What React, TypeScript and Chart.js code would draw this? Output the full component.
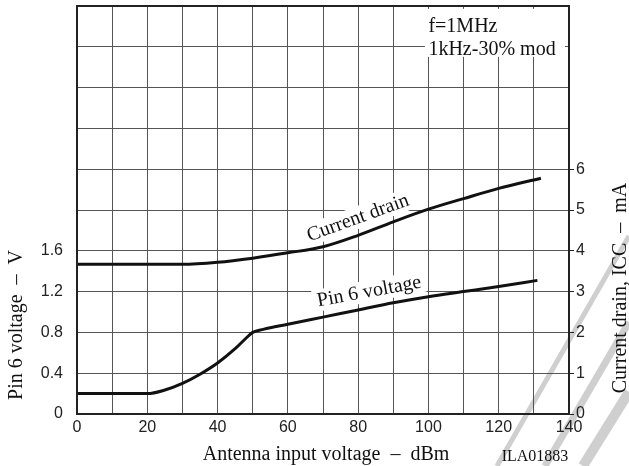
import React, { useEffect, useRef } from "react";
import { Chart, registerables } from "chart.js";

Chart.register(...registerables);

// Antenna input voltage (dBm) vs Pin 6 voltage (V)
const pin6Dbm = [0, 10, 20, 25, 30, 35, 40, 45, 48, 50, 53, 60, 70, 80, 90, 100, 110, 120, 131];
const pin6Volts = [0.2, 0.2, 0.2, 0.235, 0.3, 0.39, 0.5, 0.64, 0.74, 0.8, 0.83, 0.88, 0.95, 1.02, 1.09, 1.15, 1.2, 1.25, 1.31];

// Antenna input voltage (dBm) vs Current drain (mA)
const drainDbm = [0, 10, 20, 30, 40, 50, 60, 70, 80, 90, 100, 110, 120, 132];
const drainMa = [3.67, 3.67, 3.67, 3.67, 3.72, 3.82, 3.95, 4.1, 4.38, 4.71, 5.02, 5.28, 5.53, 5.78];

const xTitle = "Antenna input voltage  –  dBm";
const leftTitle = "Pin 6 voltage  –  V";
const rightTitle = "Current drain, ICC  –  mA";
const noteLines = ["f=1MHz", "1kHz-30% mod"];
const figureId = "ILA01883";
const drainLabel = "Current drain";
const pin6Label = "Pin 6 voltage";

const SERIF = "'Liberation Serif', 'Times New Roman', serif";
const SANS = "'Liberation Sans', Arial, sans-serif";

const annotPlugin = {
  id: "annot",
  beforeDraw(chart: any) {
    const ctx = chart.ctx;
    ctx.save();
    ctx.fillStyle = "#fff";
    ctx.fillRect(0, 0, chart.width, chart.height);
    ctx.strokeStyle = "#cfcfcf";
    ctx.lineCap = "butt";
    const seg = (x1: number, y1: number, x2: number, y2: number, w: number) => {
      ctx.lineWidth = w;
      ctx.beginPath();
      ctx.moveTo(x1, y1);
      ctx.lineTo(x2, y2);
      ctx.stroke();
    };
    seg(497, 466, 629, 236, 5);
    seg(545, 466, 629, 322, 7);
    seg(583, 466, 629, 392, 10);
    ctx.restore();
  },
  beforeDatasetsDraw(chart: any) {
    const ctx = chart.ctx;
    const xs = chart.scales.x;
    const y1 = chart.scales.y1;
    const y = chart.scales.y;
    ctx.save();
    // note box
    ctx.fillStyle = "#fff";
    ctx.fillRect(xs.getPixelForValue(99), y1.getPixelForValue(9.93), 140, 48);
    ctx.fillStyle = "#111";
    ctx.font = `20px ${SERIF}`;
    ctx.textAlign = "left";
    ctx.textBaseline = "alphabetic";
    const nx = xs.getPixelForValue(100);
    ctx.fillText(noteLines[0], nx, 32);
    ctx.fillText(noteLines[1], nx, 55);

    const drawRot = (text: string, px: number, py: number, deg: number) => {
      ctx.save();
      ctx.translate(px, py);
      ctx.rotate((deg * Math.PI) / 180);
      ctx.font = `20px ${SERIF}`;
      const w = ctx.measureText(text).width;
      ctx.fillStyle = "#fff";
      ctx.fillRect(-w / 2 - 4, -17, w + 8, 22);
      ctx.fillStyle = "#111";
      ctx.textAlign = "center";
      ctx.textBaseline = "alphabetic";
      ctx.fillText(text, 0, 0);
      ctx.restore();
    };
    drawRot(drainLabel, xs.getPixelForValue(80.5), y1.getPixelForValue(4.68), -20);
    drawRot(pin6Label, xs.getPixelForValue(83.4), y.getPixelForValue(1.147), -10.5);
    ctx.restore();
  },
  afterDraw(chart: any) {
    const ctx = chart.ctx;
    const a = chart.chartArea;
    ctx.save();
    ctx.strokeStyle = "#222";
    ctx.lineWidth = 2;
    ctx.strokeRect(a.left, a.top, a.right - a.left, a.bottom - a.top);

    ctx.fillStyle = "#111";
    ctx.font = `20px ${SERIF}`;
    ctx.textAlign = "center";
    ctx.textBaseline = "alphabetic";
    ctx.fillText(xTitle, 326, 460);

    ctx.font = `16px ${SERIF}`;
    ctx.fillText(figureId, 535, 461);

    ctx.font = `20px ${SERIF}`;
    ctx.save();
    ctx.translate(22, 325);
    ctx.rotate(-Math.PI / 2);
    ctx.fillText(leftTitle, 0, 0);
    ctx.restore();

    ctx.save();
    ctx.translate(626, 288);
    ctx.rotate(-Math.PI / 2);
    ctx.fillText(rightTitle, 0, 0);
    ctx.restore();
    ctx.restore();
  },
};

export default function App() {
  const ref = useRef<HTMLCanvasElement | null>(null);
  useEffect(() => {
    document.body.style.margin = "0";
    if (!ref.current) return;
    const noPad = (s: any) => {
      s.paddingTop = 0;
      s.paddingBottom = 0;
    };
    const chart = new Chart(ref.current, {
      type: "line",
      data: {
        datasets: [
          {
            label: "Pin 6 voltage",
            data: pin6Dbm.map((x, i) => ({ x, y: pin6Volts[i] })),
            yAxisID: "y",
            borderColor: "#111",
            borderWidth: 3,
            pointRadius: 0,
            cubicInterpolationMode: "monotone",
          },
          {
            label: "Current drain",
            data: drainDbm.map((x, i) => ({ x, y: drainMa[i] })),
            yAxisID: "y1",
            borderColor: "#111",
            borderWidth: 3,
            pointRadius: 0,
            cubicInterpolationMode: "monotone",
          },
        ],
      },
      options: {
        animation: false,
        responsive: false,
        layout: { padding: { top: 6, left: 0, right: 0, bottom: 0 } },
        plugins: { legend: { display: false }, tooltip: { enabled: false }, title: { display: false } },
        scales: {
          x: {
            type: "linear",
            min: 0,
            max: 140,
            ticks: {
              stepSize: 10,
              padding: 4,
              color: "#222",
              font: { family: SANS, size: 16 },
              maxRotation: 0,
              autoSkip: false,
              callback: (v: any) => (Number(v) % 20 === 0 ? String(v) : ""),
            },
            grid: { color: "#555", lineWidth: 1, drawTicks: false },
            border: { color: "#222", width: 2 },
            afterFit: (s: any) => {
              s.height = 52;
            },
          },
          y: {
            type: "linear",
            position: "left",
            min: 0,
            max: 4,
            ticks: {
              stepSize: 0.4,
              padding: 6,
              color: "#222",
              font: { family: SANS, size: 16 },
              autoSkip: false,
              callback: (v: any) => {
                const n = Number(v);
                if (n > 1.61) return "";
                return n === 0 ? "0" : n.toFixed(1);
              },
            },
            grid: { display: false },
            border: { color: "#222", width: 2 },
            afterFit: (s: any) => {
              s.width = 77;
              noPad(s);
            },
          },
          y1: {
            type: "linear",
            position: "right",
            min: 0,
            max: 10,
            ticks: {
              stepSize: 1,
              padding: 2,
              color: "#222",
              font: { family: SANS, size: 16 },
              autoSkip: false,
              callback: (v: any) => (Number(v) <= 6 ? String(v) : ""),
            },
            grid: {
              color: "#555",
              lineWidth: 1,
              drawTicks: true,
              tickLength: 5,
              tickColor: (c: any) => (c.tick && c.tick.value <= 6 ? "#222" : "rgba(0,0,0,0)"),
            },
            border: { color: "#222", width: 2 },
            afterFit: (s: any) => {
              s.width = 60;
              noPad(s);
            },
          },
        },
      } as any,
      plugins: [annotPlugin],
    });
    return () => chart.destroy();
  }, []);
  return <canvas ref={ref} width={629} height={466} style={{ display: "block" }} />;
}
